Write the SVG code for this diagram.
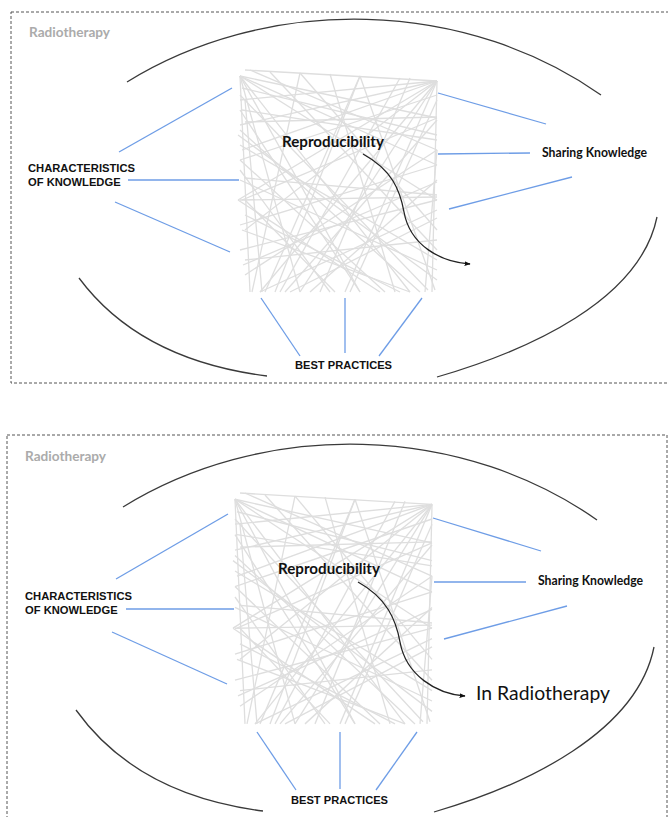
<svg xmlns="http://www.w3.org/2000/svg" xmlns:xlink="http://www.w3.org/1999/xlink" width="668" height="817" viewBox="0 0 668 817">
<style>
.frame{fill:none;stroke:#555;stroke-width:1;stroke-dasharray:3,2}
.arc{fill:none;stroke:#3a3a3a;stroke-width:1.3}
.blue{stroke:#6e9de6;stroke-width:1.3;fill:none}
.tg line{stroke:#dedede;stroke-width:1.3}
.title{font-family:Lato,"Liberation Sans",sans-serif;font-weight:bold;font-size:13px;fill:#ababab}
.cap{font-family:"Liberation Sans",Arial,sans-serif;font-weight:bold;font-size:11.2px;fill:#111}
.lab{font-family:Lato,"Liberation Sans",sans-serif;font-weight:bold;font-size:13px;fill:#111}
.rep{font-family:Lato,"Liberation Sans",sans-serif;font-weight:bold;font-size:15px;fill:#111}
.inr{font-family:Lato,"Liberation Sans",sans-serif;font-size:19px;fill:#111}
.arr{fill:none;stroke:#222;stroke-width:1.3;marker-end:url(#ah)}
</style>
<defs>
<marker id="ah" viewBox="0 0 10 10" refX="9" refY="5" markerWidth="6" markerHeight="6" orient="auto" markerUnits="userSpaceOnUse">
<path d="M0,1 L10,5 L0,9 Z" fill="#111"/>
</marker>
<g id="tangle" class="tg">
<line x1="245" y1="70" x2="437" y2="81"/>
<line x1="437" y1="81" x2="240" y2="100"/>
<line x1="437" y1="81" x2="240" y2="125"/>
<line x1="437" y1="81" x2="242" y2="150"/>
<line x1="437" y1="81" x2="238" y2="200"/>
<line x1="437" y1="81" x2="260" y2="292"/>
<line x1="437" y1="81" x2="300" y2="292"/>
<line x1="437" y1="81" x2="345" y2="292"/>
<line x1="437" y1="81" x2="245" y2="230"/>
<line x1="437" y1="81" x2="432" y2="292"/>
<line x1="240" y1="76" x2="437" y2="118"/>
<line x1="240" y1="76" x2="437" y2="165"/>
<line x1="240" y1="76" x2="437" y2="200"/>
<line x1="240" y1="76" x2="410" y2="292"/>
<line x1="240" y1="76" x2="360" y2="292"/>
<line x1="240" y1="76" x2="300" y2="292"/>
<line x1="240" y1="76" x2="250" y2="292"/>
<line x1="250" y1="70" x2="437" y2="150"/>
<line x1="245" y1="122" x2="437" y2="117"/>
<line x1="240" y1="200" x2="437" y2="197"/>
<line x1="245" y1="178" x2="437" y2="195"/>
<line x1="240" y1="130" x2="420" y2="292"/>
<line x1="240" y1="145" x2="437" y2="260"/>
<line x1="242" y1="200" x2="437" y2="118"/>
<line x1="240" y1="225" x2="437" y2="165"/>
<line x1="240" y1="250" x2="437" y2="200"/>
<line x1="245" y1="275" x2="437" y2="150"/>
<line x1="238" y1="200" x2="380" y2="292"/>
<line x1="240" y1="170" x2="330" y2="292"/>
<line x1="300" y1="73" x2="252" y2="292"/>
<line x1="300" y1="73" x2="437" y2="230"/>
<line x1="360" y1="76" x2="265" y2="292"/>
<line x1="360" y1="76" x2="435" y2="290"/>
<line x1="260" y1="292" x2="437" y2="210"/>
<line x1="285" y1="292" x2="437" y2="120"/>
<line x1="310" y1="292" x2="437" y2="180"/>
<line x1="335" y1="292" x2="245" y2="200"/>
<line x1="360" y1="292" x2="240" y2="110"/>
<line x1="385" y1="292" x2="240" y2="160"/>
<line x1="410" y1="292" x2="242" y2="230"/>
<line x1="428" y1="290" x2="240" y2="95"/>
<line x1="437" y1="240" x2="245" y2="260"/>
<line x1="437" y1="270" x2="240" y2="180"/>
<line x1="275" y1="292" x2="360" y2="76"/>
<line x1="320" y1="292" x2="410" y2="78"/>
<line x1="395" y1="292" x2="330" y2="74"/>
<line x1="245" y1="100" x2="262" y2="292"/>
<line x1="437" y1="150" x2="425" y2="292"/>
<line x1="242" y1="88" x2="437" y2="135"/>
<line x1="238" y1="135" x2="437" y2="280"/>
<line x1="290" y1="292" x2="437" y2="218"/>
<line x1="350" y1="292" x2="437" y2="100"/>
<line x1="245" y1="215" x2="400" y2="292"/>
<line x1="270" y1="72" x2="437" y2="250"/>
<line x1="400" y1="78" x2="280" y2="292"/>
<line x1="240" y1="160" x2="437" y2="95"/>
<line x1="243" y1="265" x2="437" y2="182"/>
<line x1="242" y1="110" x2="437" y2="140"/>
</g>
</defs>

<!-- ===== Top panel ===== -->
<g id="panel1">
<rect class="frame" x="11" y="12" width="670" height="371"/>
<text class="title" x="29" y="37" textLength="81" lengthAdjust="spacingAndGlyphs">Radiotherapy</text>
<path class="arc" d="M127,82 A383,322 0 0 1 601,95"/>
<path class="arc" d="M79,278 Q140,360 267,376"/>
<path class="arc" d="M437,377 C530,350 640,300 657,217"/>
<use xlink:href="#tangle" href="#tangle"/>
</g>
<g id="connectors1">
<line class="blue" x1="119" y1="152" x2="232" y2="88"/>
<line class="blue" x1="128" y1="180" x2="239" y2="180"/>
<line class="blue" x1="115" y1="202" x2="230" y2="252"/>
<line class="blue" x1="261" y1="298" x2="300" y2="356"/>
<line class="blue" x1="345" y1="298" x2="345" y2="353"/>
<line class="blue" x1="422" y1="298" x2="379" y2="356"/>
<line class="blue" x1="438" y1="93" x2="546" y2="124"/>
<line class="blue" x1="438" y1="154" x2="530" y2="153"/>
<line class="blue" x1="449" y1="209" x2="572" y2="177"/>
<path class="arr" d="M363,154 C392,170 400,190 404,212 C410,245 440,262 470,264"/>
</g>
<g id="node-characteristics-1"><text class="cap" x="28" y="172" textLength="107" lengthAdjust="spacingAndGlyphs">CHARACTERISTICS</text><text class="cap" x="28" y="186">OF KNOWLEDGE</text></g>
<g id="node-sharing-1"><text class="lab" x="542" y="157" textLength="105" lengthAdjust="spacingAndGlyphs">Sharing Knowledge</text></g>
<g id="node-best-1"><text class="cap" x="295" y="369" textLength="97" lengthAdjust="spacingAndGlyphs">BEST PRACTICES</text></g>
<g id="node-repro-1"><text class="rep" x="282" y="147" textLength="102" lengthAdjust="spacingAndGlyphs">Reproducibility</text></g>

<!-- ===== Bottom panel ===== -->
<g id="panel2">
<rect class="frame" x="7" y="435" width="660" height="392"/>
<text class="title" x="25" y="461" textLength="81" lengthAdjust="spacingAndGlyphs">Radiotherapy</text>
<path class="arc" d="M123,507 A383,322 0 0 1 597,520"/>
<path class="arc" d="M76,710 Q137,795 263,811"/>
<path class="arc" d="M434,812 C527,785 637,732 654,647"/>
<use xlink:href="#tangle" href="#tangle" transform="matrix(1 0 0 1.04 -5 420.2)"/>
</g>
<g id="connectors2">
<line class="blue" x1="116" y1="579" x2="228" y2="514"/>
<line class="blue" x1="126" y1="609" x2="234" y2="609"/>
<line class="blue" x1="112" y1="632" x2="227" y2="684"/>
<line class="blue" x1="257" y1="732" x2="296" y2="790"/>
<line class="blue" x1="340" y1="732" x2="340" y2="789"/>
<line class="blue" x1="417" y1="732" x2="376" y2="790"/>
<line class="blue" x1="433" y1="518" x2="541" y2="551"/>
<line class="blue" x1="434" y1="582" x2="526" y2="582"/>
<line class="blue" x1="444" y1="639" x2="567" y2="606"/>
<path class="arr" d="M358,582 C387,598 396,620 400,642 C406,675 436,694 465,696"/>
</g>
<g id="node-characteristics-2"><text class="cap" x="25" y="600" textLength="107" lengthAdjust="spacingAndGlyphs">CHARACTERISTICS</text><text class="cap" x="25" y="614">OF KNOWLEDGE</text></g>
<g id="node-sharing-2"><text class="lab" x="538" y="585" textLength="105" lengthAdjust="spacingAndGlyphs">Sharing Knowledge</text></g>
<g id="node-best-2"><text class="cap" x="291" y="804" textLength="97" lengthAdjust="spacingAndGlyphs">BEST PRACTICES</text></g>
<g id="node-repro-2"><text class="rep" x="278" y="574" textLength="102" lengthAdjust="spacingAndGlyphs">Reproducibility</text></g>
<g id="node-inradio"><text class="inr" x="476" y="700" textLength="134" lengthAdjust="spacingAndGlyphs">In Radiotherapy</text></g>
</svg>
